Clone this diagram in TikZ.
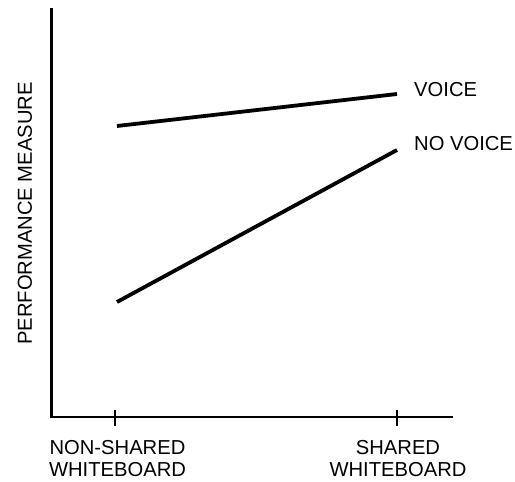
\documentclass[tikz,border=0pt]{standalone}
\usepackage{fontspec}
\setmainfont{Liberation Sans}
\begin{document}
\begin{tikzpicture}[x=1pt,y=-1pt,
  axis/.style={line width=2.8pt},
  dataline/.style={line width=3.8pt},
  lbl/.style={font=\fontsize{20.2}{22}\selectfont, inner sep=0pt},
  tickmark/.style={line width=2.4pt}]
\useasboundingbox[fill=white] (0,0) rectangle (515,482);
% axes
\coordinate (ytop) at (51.5,8);
\coordinate (origin) at (51.5,417);
\coordinate (xend) at (453,417);
\draw[axis] (ytop) -- (origin) -- (xend);
% ticks
\coordinate (t1a) at (115,410);
\coordinate (t1b) at (115,426);
\coordinate (t2a) at (397,410);
\coordinate (t2b) at (397,426);
\draw[tickmark] (t1a) -- (t1b);
\draw[tickmark] (t2a) -- (t2b);
% data
\coordinate (v1) at (117,126);
\coordinate (v2) at (397,94);
\coordinate (n1) at (117,302);
\coordinate (n2) at (397,150);
\draw[dataline] (v1) -- (v2);
\draw[dataline] (n1) -- (n2);
% labels
\node[lbl, anchor=west] (voice) at (414,90) {VOICE};
\node[lbl, anchor=west] (novoice) at (414,144) {NO VOICE};
\node[lbl, rotate=90] (ylab) at (25,213.5) {PERFORMANCE MEASURE};
\node[lbl, align=center] (nonshared) at (117.5,459) {NON-SHARED\\WHITEBOARD};
\node[lbl, align=center] (shared) at (398,459) {SHARED\\WHITEBOARD};
\end{tikzpicture}
\end{document}
